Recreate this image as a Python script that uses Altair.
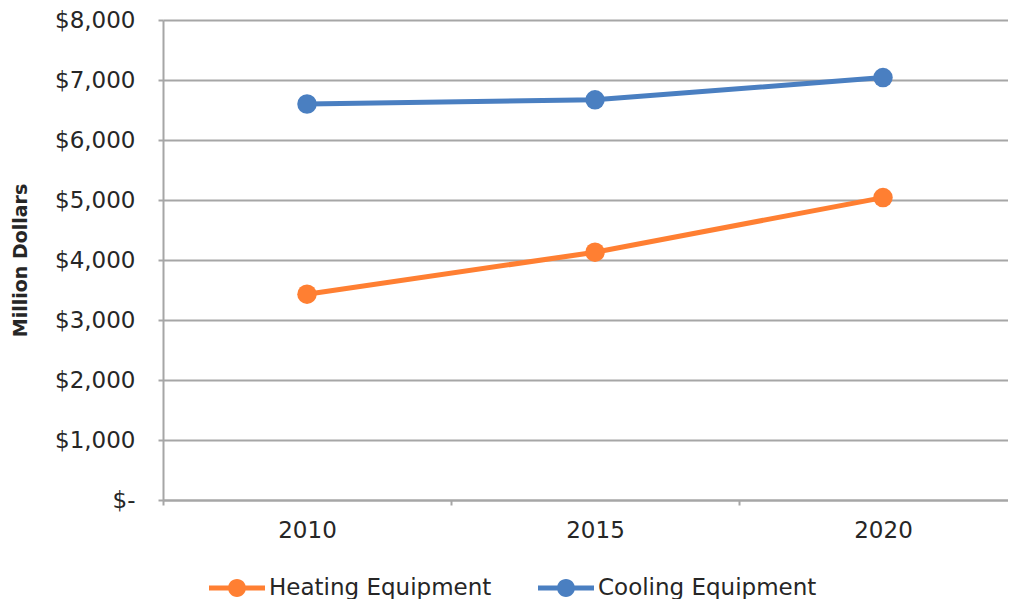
import altair as alt
import pandas as pd

years = [2010, 2015, 2020]
heating = [3430, 4130, 5040]
cooling = [6600, 6670, 7040]
series = ["Heating Equipment", "Cooling Equipment"]
colors = ["#FF7F32", "#4A7FC1"]

rows = []
for name, vals in zip(series, [heating, cooling]):
    for yr, v in zip(years, vals):
        rows.append({"Year": yr, "Value": v, "Series": name})
df = pd.DataFrame(rows)

FONT = "DejaVu Sans"
GRID = "#A6A6A6"
TEXT = "#262626"

x_enc = alt.X(
    "Year:Q",
    scale=alt.Scale(domain=[2007.5, 2022.17], nice=False, zero=False),
    axis=alt.Axis(
        values=[2007.5, 2010, 2012.5, 2015, 2017.5, 2020],
        labelExpr="datum.value % 5 == 0 ? toString(datum.value) : ''",
        tickOpacity={"condition": {"test": "datum.value % 5 == 0", "value": 0}, "value": 1},
        labelOverlap=False,
        labelFlush=False,
        grid=False,
        title=None,
        tickSize=5,
        tickWidth=2,
        tickColor=GRID,
        domainColor=GRID,
        domainWidth=2,
        labelFont=FONT,
        labelFontSize=23,
        labelColor=TEXT,
        labelPadding=14,
    ),
)

y_enc = alt.Y(
    "Value:Q",
    scale=alt.Scale(domain=[0, 8000], nice=False),
    axis=alt.Axis(
        values=list(range(0, 8001, 1000)),
        labelExpr="datum.value == 0 ? '$-' : '$' + format(datum.value, ',')",
        title="Million Dollars",
        titleFont=FONT,
        titleFontSize=19,
        titleFontWeight="bold",
        titleColor=TEXT,
        titleAngle=270,
        titleAlign="center",
        titleBaseline="middle",
        titleX=-143,
        titleY=240,
        grid=True,
        gridColor=GRID,
        gridWidth=2,
        domainColor=GRID,
        domainWidth=2,
        tickColor=GRID,
        tickWidth=2,
        tickSize=5,
        labelFont=FONT,
        labelFontSize=23,
        labelColor=TEXT,
        labelPadding=23,
    ),
)

color_scale = alt.Scale(domain=series, range=colors)

SYMBOL = ("M-1,-0.09L1,-0.09L1,0.09L-1,0.09Z "
          "M-0.32,0A0.32,0.32 0 1,1 0.32,0A0.32,0.32 0 1,1 -0.32,0Z")

lines = alt.Chart(df).mark_line(strokeWidth=5).encode(
    x=x_enc, y=y_enc,
    color=alt.Color("Series:N", scale=color_scale, legend=None),
    detail="Series:N",
)

points = alt.Chart(df).mark_point(filled=True, size=380, opacity=1, strokeWidth=0).encode(
    x=x_enc, y=y_enc,
    color=alt.Color(
        "Series:N", scale=color_scale,
        legend=alt.Legend(
            title=None,
            orient="none",
            direction="horizontal",
            legendX=46,
            legendY=540,
            symbolType=SYMBOL,
            symbolSize=3136,
            symbolStrokeWidth=0,
            symbolOpacity=1,
            labelFont=FONT,
            labelFontSize=23,
            labelColor=TEXT,
            labelOffset=4,
            labelLimit=0,
            columnPadding=46,
        ),
    ),
)

chart = alt.layer(lines, points).resolve_legend(color="independent").properties(
    width=845,
    height=480,
    autosize=alt.AutoSizeParams(type="none"),
    padding={"left": 155, "top": 12, "right": 0, "bottom": 99},
    background="white",
).configure_view(stroke=None)

chart.save("out.html", embed_options={"renderer": "svg", "actions": False})
